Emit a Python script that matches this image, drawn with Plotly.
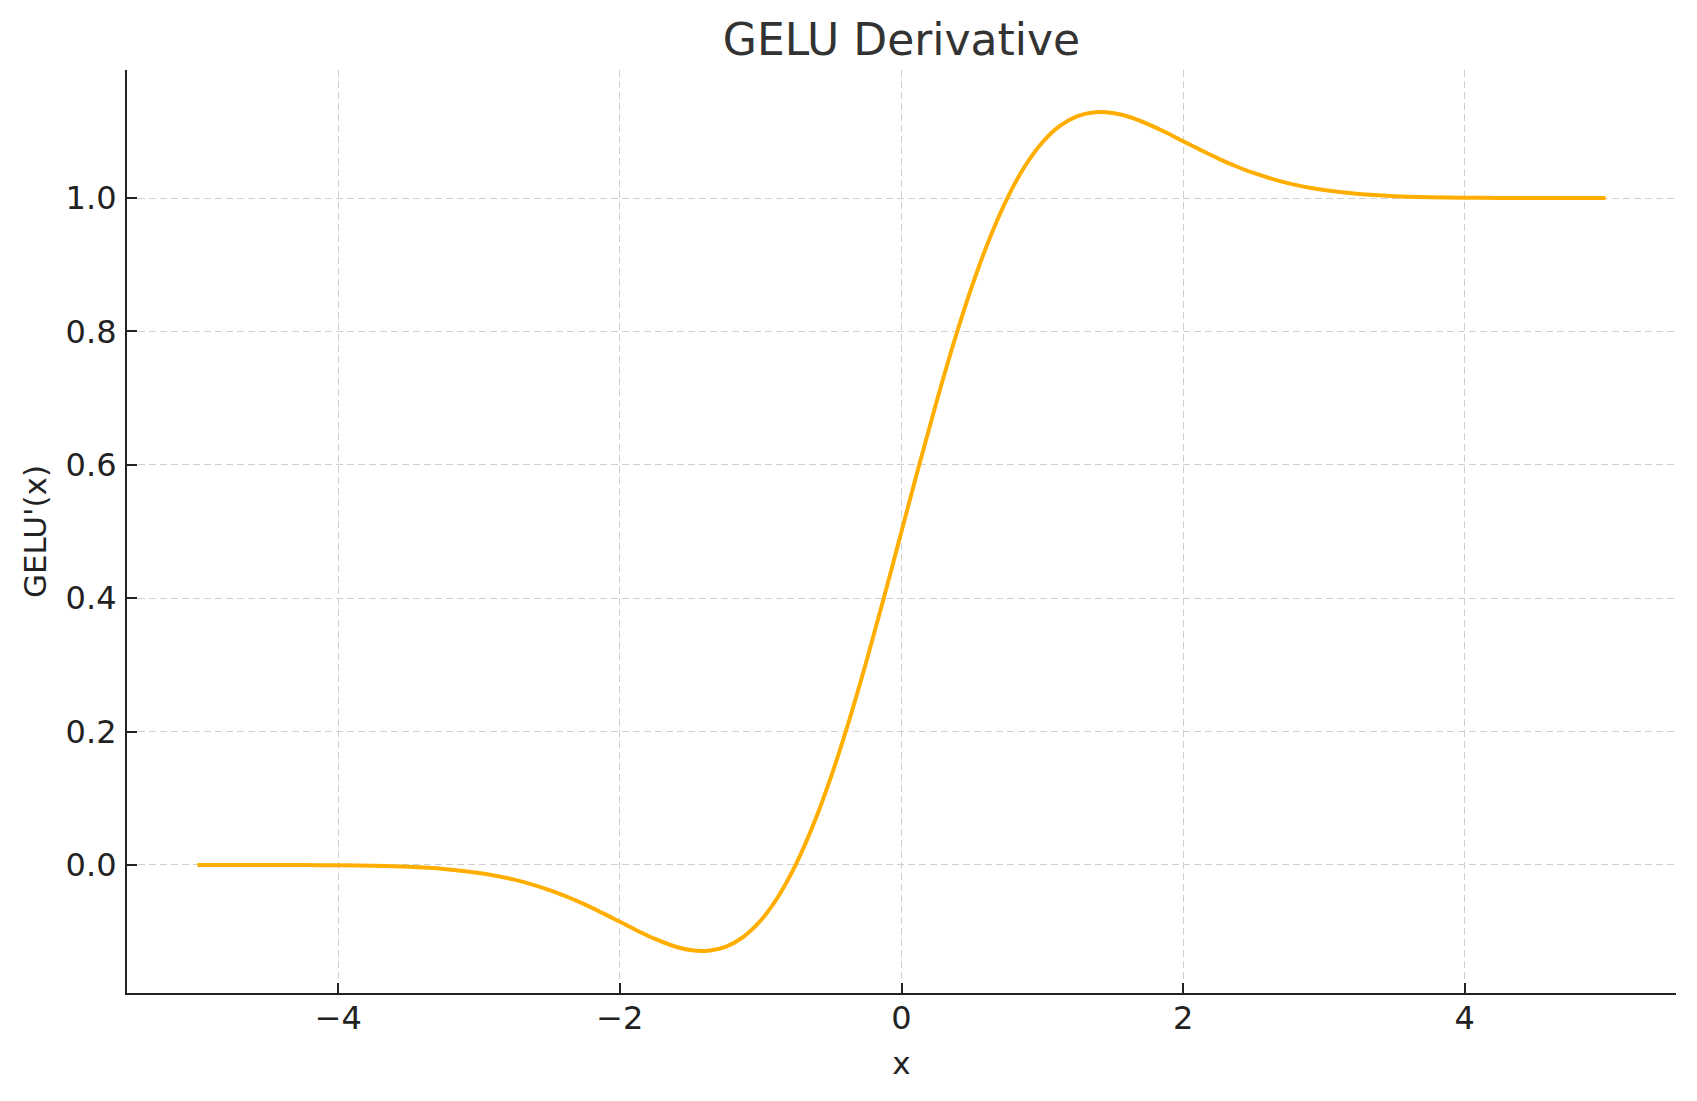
import plotly.graph_objects as go

# Values (x, GELU'(x))
x_vals = [-5.0, -4.75, -4.5, -4.25, -4.0, -3.75, -3.5, -3.25, -3.0, -2.75, -2.5, -2.375, -2.25, -2.125,
          -2.0, -1.875, -1.75, -1.625, -1.5, -1.375, -1.25, -1.125, -1.0, -0.875, -0.75, -0.625,
          -0.5, -0.375, -0.25, -0.125, 0.0,
          0.125, 0.25, 0.375, 0.5, 0.625, 0.75, 0.875, 1.0, 1.125, 1.25, 1.375, 1.5, 1.625,
          1.75, 1.875, 2.0, 2.125, 2.25, 2.375, 2.5, 2.75,
          3.0, 3.25, 3.5, 3.75, 4.0, 4.25, 4.5, 4.75, 5.0]
y_vals = [0.0000, -0.0000, -0.0001, -0.0002, -0.0005, -0.0012, -0.0028, -0.0060, -0.0120, -0.0220, -0.0376, -0.0477, -0.0592, -0.0719,
          -0.0852, -0.0986, -0.1109, -0.1211, -0.1275, -0.1286, -0.1227, -0.1081, -0.0833, -0.0473, 0.0007, 0.0609,
          0.1325, 0.2144, 0.3046, 0.4008, 0.5000,
          0.5992, 0.6954, 0.7856, 0.8675, 0.9391, 0.9993, 1.0473, 1.0833, 1.1081, 1.1227, 1.1286, 1.1275, 1.1211,
          1.1109, 1.0986, 1.0852, 1.0719, 1.0592, 1.0477, 1.0376, 1.0220,
          1.0120, 1.0060, 1.0028, 1.0012, 1.0005, 1.0002, 1.0001, 1.0000, 1.0000]

x_ticks = [-4, -2, 0, 2, 4]
y_ticks = [0.0, 0.2, 0.4, 0.6, 0.8, 1.0]
y_tick_labels = ["0.0", "0.2", "0.4", "0.6", "0.8", "1.0"]

title_text = "GELU Derivative"
x_label = "x"
y_label = "GELU'(x)"

fig = go.Figure()
fig.add_trace(go.Scatter(
    x=x_vals, y=y_vals, mode="lines",
    line=dict(color="#FFAE00", width=4, shape="spline", smoothing=1.0),
    showlegend=False, hoverinfo="skip",
))

FONT = "DejaVu Sans"
axis_common = dict(
    showline=True, linecolor="#222222", linewidth=2.2,
    ticks="inside", ticklen=10, tickwidth=2, tickcolor="#222222",
    showgrid=True, gridcolor="#cfcfcf", gridwidth=1.3, griddash="7px,4px",
    zeroline=False, mirror=False, automargin=False,
    tickfont=dict(family=FONT, size=32, color="#222222"),
)

fig.update_layout(
    width=1697, height=1101,
    paper_bgcolor="white", plot_bgcolor="white",
    margin=dict(l=127, r=21, t=70, b=108),
    title=dict(text=title_text, x=0.5, xanchor="center", xref="paper",
               y=1 - 40 / 1101, yref="container", yanchor="middle",
               font=dict(family=FONT, size=44, color="#333333")),
    xaxis=dict(range=[-5.5, 5.5], tickvals=x_ticks, ticklabelstandoff=-5,
               title=dict(text=x_label, font=dict(family=FONT, size=31, color="#222222"), standoff=17),
               **axis_common),
    yaxis=dict(range=[-0.192, 1.192], tickvals=y_ticks, ticktext=y_tick_labels, ticklabelstandoff=2,
               title=dict(text=y_label, font=dict(family=FONT, size=31, color="#222222"), standoff=10),
               **axis_common),
)

fig.write_html("out.html", config={"displayModeBar": False},
               post_script="document.body.style.margin='0';")
